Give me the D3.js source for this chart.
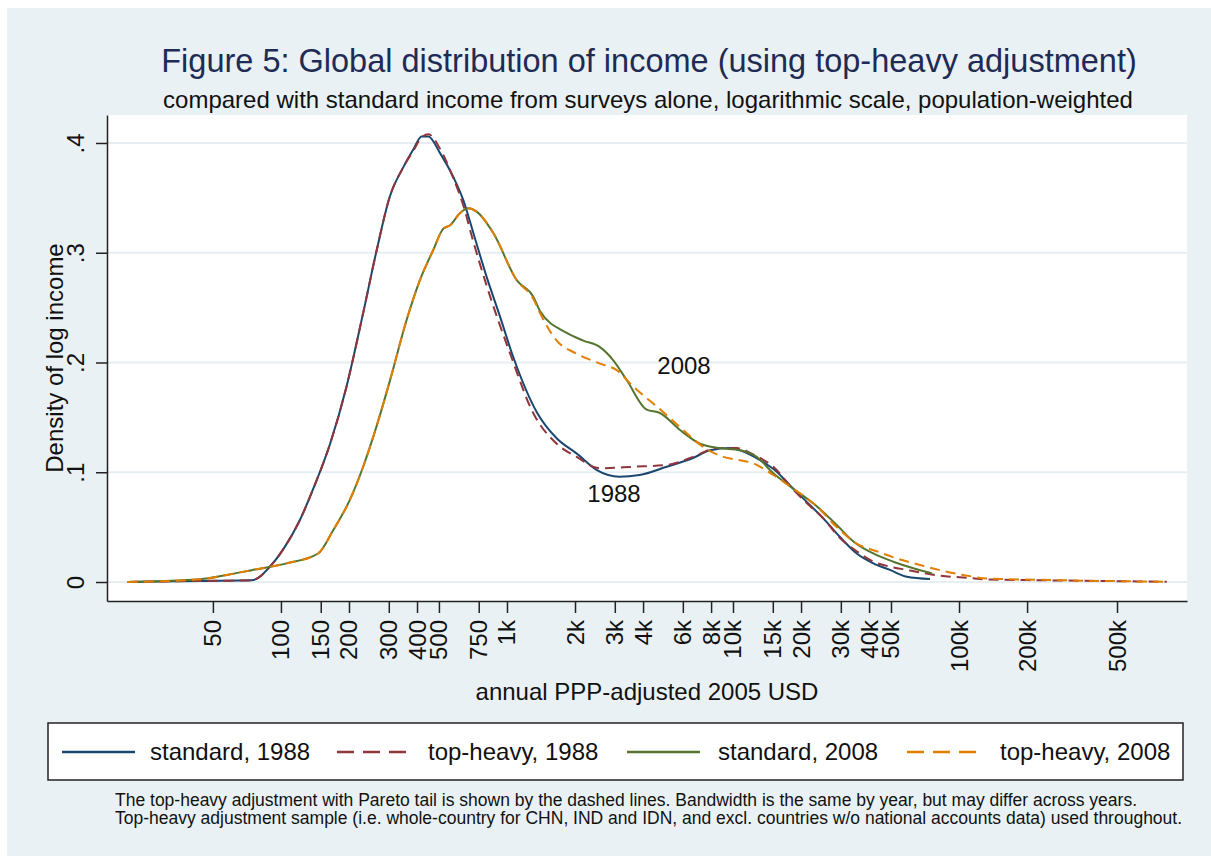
<!DOCTYPE html>
<html>
<head>
<meta charset="utf-8">
<script src="https://cdn.jsdelivr.net/npm/d3@7"></script>
<style>
  body { margin: 0; background: #fff; }
  svg { display: block; font-family: "Liberation Sans", Arial, sans-serif; }
  .axis path, .axis line { stroke: #222; stroke-width: 1.5; }
  .axis text { fill: #111; }
  .grid line { stroke: #e6eef2; stroke-width: 2; }
</style>
</head>
<body>
<script>
// income (annual PPP 2005 USD), density of log income
var std1988 = [[21,0],[44,0.001],[74,0.0015],[92,0.017],[104,0.032],[121,0.056],[139,0.085],[165,0.126],[195,0.178],[231,0.245],[265,0.302],[303,0.351],[348,0.378],[385,0.394],[419,0.406],[449,0.406],[505,0.391],[579,0.369],[641,0.348],[710,0.318],[813,0.278],[931,0.242],[1066,0.205],[1353,0.155],[1659,0.131],[2037,0.117],[2499,0.102],[3141,0.096],[3863,0.0975],[5087,0.105],[6652,0.113],[7914,0.120],[9758,0.122],[10740,0.120],[13170,0.111],[15610,0.1005],[17880,0.088],[21190,0.073],[25090,0.058],[29750,0.041],[35270,0.026],[41770,0.017],[49510,0.011],[58700,0.0048],[74400,0.0027]];

var top1988 = [[21,0],[44,0.001],[74,0.0015],[92,0.017],[104,0.032],[121,0.056],[139,0.085],[165,0.126],[195,0.178],[231,0.245],[265,0.302],[303,0.351],[348,0.378],[385,0.393],[419,0.405],[449,0.408],[505,0.395],[579,0.368],[641,0.343],[710,0.310],[813,0.270],[1033,0.208],[1306,0.154],[1660,0.126],[2034,0.114],[2579,0.1036],[3622,0.105],[5087,0.1066],[6660,0.114],[8470,0.122],[10410,0.122],[12340,0.116],[13170,0.113],[15080,0.105],[18490,0.084],[21190,0.072],[25090,0.058],[29750,0.040],[35270,0.028],[41770,0.0185],[49510,0.014],[58700,0.011],[82400,0.0058],[115700,0.0034],[128100,0.0025],[252800,0.0015],[500000,0.0008],[830000,0.0002]];

var std2008 = [[21,0],[44,0.0025],[57.5,0.0064],[75,0.011],[106,0.017],[146,0.026],[170,0.047],[202,0.075],[231,0.105],[265,0.142],[304,0.184],[360,0.239],[412,0.275],[472,0.3025],[523,0.322],[560,0.325],[619,0.336],[674,0.3405],[734,0.3375],[870,0.318],[1104,0.275],[1308,0.26],[1400,0.247],[1837,0.227],[2176,0.220],[2579,0.214],[2953,0.202],[3386,0.184],[4151,0.157],[4753,0.154],[5829,0.1385],[7145,0.126],[8760,0.122],[10740,0.120],[12730,0.114],[15080,0.099],[18490,0.085],[23470,0.069],[28770,0.052],[34070,0.037],[41770,0.026],[51200,0.0185],[62800,0.0125],[75700,0.008]];

var top2008 = [[21,0],[44,0.0025],[57.5,0.0064],[75,0.011],[106,0.017],[146,0.026],[170,0.047],[202,0.075],[231,0.105],[265,0.142],[304,0.184],[360,0.239],[412,0.275],[472,0.3025],[523,0.322],[560,0.325],[619,0.336],[674,0.3405],[734,0.3375],[870,0.318],[1104,0.275],[1308,0.258],[1400,0.245],[1660,0.220],[2034,0.208],[2579,0.199],[3058,0.193],[3622,0.178],[4597,0.160],[6027,0.1385],[7389,0.123],[9060,0.114],[10740,0.111],[12340,0.108],[15080,0.0975],[18490,0.085],[23470,0.069],[28770,0.050],[35270,0.035],[43230,0.028],[53010,0.0215],[67200,0.0155],[88200,0.0094],[115700,0.0048],[128100,0.0034],[252800,0.0018],[500000,0.0008],[830000,0.0003]];

var xTicks = [50,100,150,200,300,400,500,750,1000,2000,3000,4000,6000,8000,10000,15000,20000,30000,40000,50000,100000,200000,500000];
var xTickLabels = ["50","100","150","200","300","400","500","750","1k","2k","3k","4k","6k","8k","10k","15k","20k","30k","40k","50k","100k","200k","500k"];
var yTicks = [0,0.1,0.2,0.3,0.4];
var yTickLabels = ["0",".1",".2",".3",".4"];

var series = [
  {name: "standard, 1988", data: std1988, color: "#1a476f", dash: null, legDash: null},
  {name: "top-heavy, 1988", data: top1988, color: "#90353b", dash: "10,6", legDash: "17,9"},
  {name: "standard, 2008", data: std2008, color: "#55752f", dash: null, legDash: null},
  {name: "top-heavy, 2008", data: top2008, color: "#e37e00", dash: "10,6", legDash: "17,9"}
];

var W = 1211, H = 856;
var svg = d3.select("body").append("svg").attr("width", W).attr("height", H);

svg.append("rect").attr("x", 7).attr("y", 8).attr("width", W - 7).attr("height", H - 8)
    .attr("fill", "#eaf1f4");

var pLeft = 107, pRight = 1187, pTop = 115, pBottom = 601;

var x = d3.scaleLog().domain([17, 1020000]).range([pLeft, pRight]);
var y = d3.scaleLinear().domain([-0.0173, 0.4255]).range([pBottom, pTop]);

svg.append("rect").attr("x", pLeft).attr("y", pTop)
    .attr("width", pRight - pLeft).attr("height", pBottom - pTop).attr("fill", "#fff");

svg.append("g").attr("class", "grid")
  .selectAll("line").data(yTicks).enter().append("line")
    .attr("x1", pLeft + 1).attr("x2", pRight)
    .attr("y1", function(d) { return y(d); })
    .attr("y2", function(d) { return y(d); });

var line = d3.line()
    .x(function(d) { return x(d[0]); })
    .y(function(d) { return y(d[1]); })
    .curve(d3.curveMonotoneX);

svg.append("g").selectAll("path").data(series).enter().append("path")
    .attr("d", function(s) { return line(s.data); })
    .attr("fill", "none")
    .attr("stroke", function(s) { return s.color; })
    .attr("stroke-width", 2)
    .attr("stroke-dasharray", function(s) { return s.dash; });

// axes
var xAxis = svg.append("g").attr("class", "axis")
    .attr("transform", "translate(0," + pBottom + ")")
    .call(d3.axisBottom(x).tickValues(xTicks).tickSize(12).tickSizeOuter(0)
      .tickFormat(function(d, i) { return xTickLabels[i]; }));
xAxis.selectAll("text")
    .attr("y", null).attr("dy", null)
    .attr("text-anchor", "end")
    .attr("transform", "translate(8,19) rotate(-90)")
    .style("font-size", "24px");

var yAxis = svg.append("g").attr("class", "axis")
    .attr("transform", "translate(" + pLeft + ",0)")
    .call(d3.axisLeft(y).tickValues(yTicks).tickSize(11).tickSizeOuter(0)
      .tickFormat(function(d, i) { return yTickLabels[i]; }));
yAxis.selectAll("text")
    .attr("x", null).attr("dy", null)
    .attr("text-anchor", "middle")
    .attr("transform", "translate(-23,0) rotate(-90)")
    .style("font-size", "24px");

// titles
svg.append("text").attr("x", 649).attr("y", 72).attr("text-anchor", "middle")
    .attr("fill", "#1e2b55").style("font-size", "32.5px")
    .text("Figure 5: Global distribution of income (using top-heavy adjustment)");
svg.append("text").attr("x", 648).attr("y", 108).attr("text-anchor", "middle")
    .attr("fill", "#111").style("font-size", "24px")
    .text("compared with standard income from surveys alone, logarithmic scale, population-weighted");

svg.append("text").attr("x", 647).attr("y", 700).attr("text-anchor", "middle")
    .attr("fill", "#111").style("font-size", "24px")
    .text("annual PPP-adjusted 2005 USD");
svg.append("text").attr("transform", "translate(63,358) rotate(-90)").attr("text-anchor", "middle")
    .attr("fill", "#111").style("font-size", "24px")
    .text("Density of log income");

// curve labels
svg.append("text").attr("x", 684).attr("y", 374).attr("text-anchor", "middle")
    .attr("fill", "#111").style("font-size", "24px").text("2008");
svg.append("text").attr("x", 614).attr("y", 502).attr("text-anchor", "middle")
    .attr("fill", "#111").style("font-size", "24px").text("1988");

// legend
var legend = svg.append("g");
legend.append("rect").attr("x", 48).attr("y", 723).attr("width", 1135).attr("height", 57)
    .attr("fill", "#fff").attr("stroke", "#222").attr("stroke-width", 1.5);
var legX = [62, 337, 627, 907];
var legTextX = [88, 91, 91, 93];
var items = legend.selectAll("g.item").data(series).enter().append("g")
    .attr("transform", function(d, i) { return "translate(" + legX[i] + ",752)"; });
items.append("line").attr("x1", 0).attr("x2", 73).attr("y1", 0).attr("y2", 0)
    .attr("stroke", function(s) { return s.color; })
    .attr("stroke-width", 2.5)
    .attr("stroke-dasharray", function(s) { return s.legDash; });
items.append("text").attr("x", function(d, i) { return legTextX[i]; }).attr("y", 8).attr("fill", "#111")
    .style("font-size", "24px").text(function(s) { return s.name; });

// note
svg.append("text").attr("x", 115).attr("y", 806).attr("fill", "#111").style("font-size", "17.5px")
    .text("The top-heavy adjustment with Pareto tail is shown by the dashed lines. Bandwidth is the same by year, but may differ across years.");
svg.append("text").attr("x", 115).attr("y", 824).attr("fill", "#111").style("font-size", "17.5px")
    .text("Top-heavy adjustment sample (i.e. whole-country for CHN, IND and IDN, and excl. countries w/o national accounts data) used throughout.");
</script>
</body>
</html>
